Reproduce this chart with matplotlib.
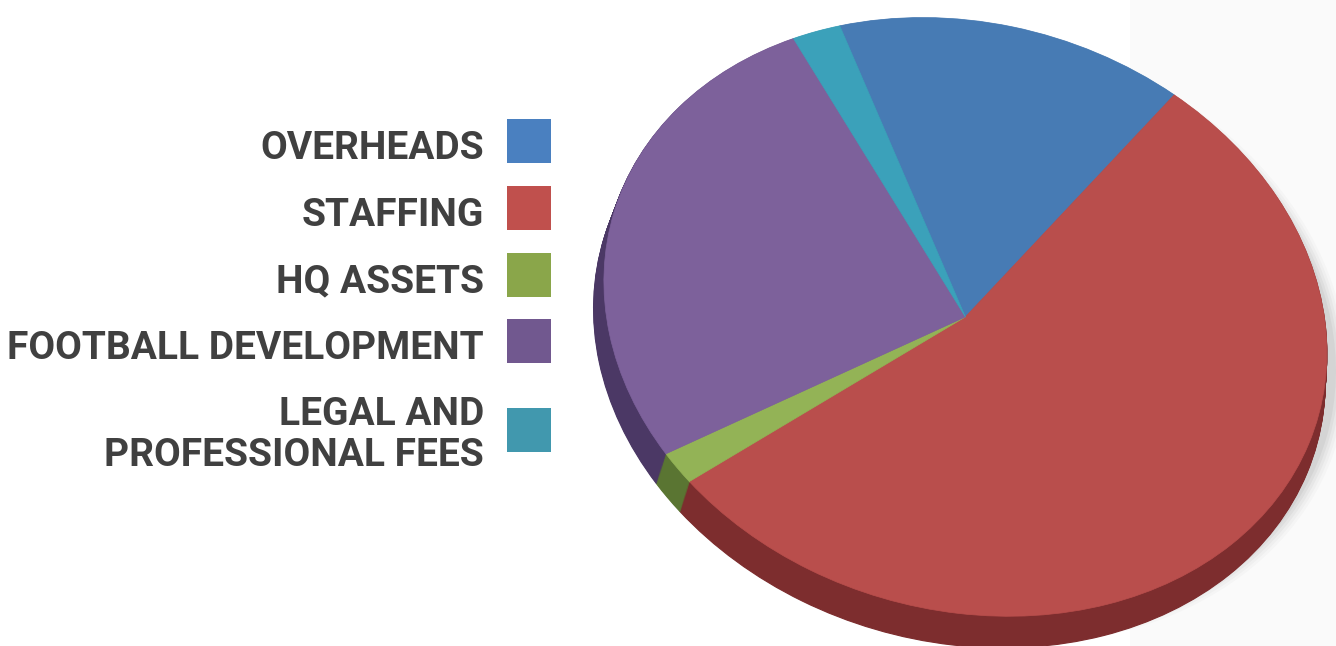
import numpy as np
import matplotlib.pyplot as plt
from matplotlib.patches import Rectangle, Circle
from matplotlib.transforms import Affine2D

# slice data, clockwise from the top
labels = ['OVERHEADS', 'STAFFING', 'HQ ASSETS', 'FOOTBALL DEVELOPMENT',
          'LEGAL AND\nPROFESSIONAL FEES']
values = [15.45, 54.03, 1.71, 26.57, 2.24]
top_colors = ['#477bb4', '#b94e4c', '#93b356', '#7d619b', '#3ba1ba']
side_colors = ['#2f5580', '#7d2d2e', '#5a7532', '#4b3865', '#2a7184']
legend_colors = ['#4a80c0', '#c0504d', '#8aa64a', '#71588f', '#4198ae']
start_angle = 123.3

W, H = 1336, 646
fig = plt.figure(figsize=(W / 100, H / 100), dpi=100)
fig.patch.set_facecolor('white')

# one axes in pixel units (y downwards)
ax = fig.add_axes([0, 0, 1, 1])
ax.add_patch(Rectangle((1130, 0), W - 1130, H, color='#fafafa', lw=0, zorder=0))

# legend: right aligned text next to a colour square
yc = 141.0
for lab, col in zip(labels, legend_colors):
    rows = lab.split('\n')
    if len(rows) > 1:
        yc += 22
    ax.add_patch(Rectangle((507, yc - 22), 44, 44, color=col, lw=0, zorder=3))
    base = yc + 18 - (len(rows) - 1) * 23
    for j, row in enumerate(rows):
        ax.text(484, base + j * 41, row, ha='right', va='baseline', fontsize=28,
                fontweight='bold', color='#404040', family=['Roboto', 'DejaVu Sans'])
    yc += 66.8


# tilted elliptical pie: unit circle -> rotated ellipse in pixels
cx, cy, a, b, phi = 965.4, 316.9, 366.6, 293.1, 16.06


def face(dx=0.0, dy=0.0, s=1.0):
    return (Affine2D().scale(a * s, b * s).rotate_deg(-phi).scale(1, -1)
            .translate(cx + dx, cy + dy) + ax.transData)


# soft shadow below/right
for i, al in enumerate([0.02, 0.025, 0.03, 0.035, 0.045]):
    s = 1.035 - i * 0.008
    ax.add_patch(Circle((0, 0), 1, transform=face(8, 18, s), color='black',
                        alpha=al, lw=0, zorder=1))

# side walls: stack of darker pies going down
for f in np.linspace(1, 0, 32)[:-1]:
    wedges, _ = ax.pie(values, colors=side_colors, startangle=start_angle,
                       counterclock=False,
                       wedgeprops=dict(transform=face(-6 * f, 28 * f, 1 + 0.012 * f)))
    for w in wedges:
        w.set_edgecolor(w.get_facecolor())
        w.set_linewidth(0.8)
        w.set_zorder(2)

# top face
wedges, _ = ax.pie(values, colors=top_colors, startangle=start_angle,
                   counterclock=False, wedgeprops=dict(transform=face()))
for w in wedges:
    w.set_edgecolor(w.get_facecolor())
    w.set_linewidth(0.5)
    w.set_zorder(2.5)

ax.set_aspect('auto')
ax.set_xlim(0, W)
ax.set_ylim(H, 0)
ax.axis('off')

fig.savefig('out.png', dpi=100, facecolor='white')
